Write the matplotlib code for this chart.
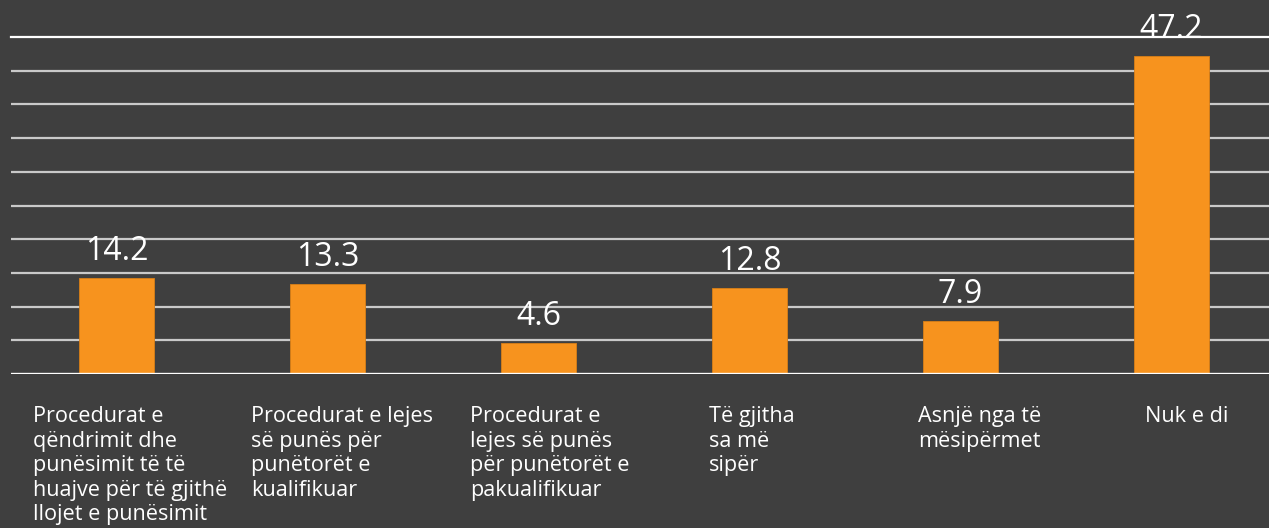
import matplotlib
matplotlib.use("Agg")
import matplotlib.pyplot as plt
from matplotlib import font_manager

categories = [
    "Procedurat e\nqëndrimit dhe\npunësimit të të\nhuajve për të gjithë\nllojet e punësimit",
    "Procedurat e lejes\nsë punës për\npunëtorët e\nkualifikuar",
    "Procedurat e\nlejes së punës\npër punëtorët e\npakualifikuar",
    "Të gjitha\nsa më\nsipër",
    "Asnjë nga të\nmësipërmet",
    "Nuk e di",
]
values = [14.2, 13.3, 4.6, 12.8, 7.9, 47.2]

# left edge of each category label, in pixels from the category centre
label_shift_px = [-83.5, -76.5, -68.5, -40.5, -42.5, -26.5]

BG = "#3f3f3f"
ORANGE = "#f7931e"
GRID = "#c9c9c9"

names = {f.name for f in font_manager.fontManager.ttflist}
family = "Open Sans" if "Open Sans" in names else "DejaVu Sans"

W, H = 1269, 528
fig = plt.figure(figsize=(W / 100, H / 100), dpi=100, facecolor=BG)
# 6 slots of 211 px starting at x=11; the last slot is cut by the figure edge
slot = 211
ax = fig.add_axes([11 / W, 1 - 374 / H, 6 * slot / W, (374 - 37) / H])
ax.set_facecolor(BG)

x = list(range(len(values)))
ax.bar(x, values, width=75 / slot, color=ORANGE, edgecolor="#d97f17",
       linewidth=0.6, zorder=3)
ax.set_xlim(-0.5, 5.5)
ax.set_ylim(0, 50)

for y in range(5, 50, 5):
    ax.axhline(y, color=GRID, linewidth=1.6, zorder=1)
ax.axhline(50, color="white", linewidth=1.6, zorder=1, clip_on=False)
ax.axhline(0, color="white", linewidth=2.4, zorder=4)

for xi, v in zip(x, values):
    ax.annotate(f"{v}", (xi, v), xytext=(0, 13), textcoords="offset points",
                ha="center", va="baseline", color="white", fontsize=23,
                family=family, zorder=5)

for xi, lab, dx in zip(x, categories, label_shift_px):
    ax.text(xi + dx / slot, -0.095, lab, transform=ax.get_xaxis_transform(),
            ha="left", va="top", color="white", fontsize=15.6, family=family,
            linespacing=1.22)

ax.set_xticks([])
ax.set_yticks([])
for s in ax.spines.values():
    s.set_visible(False)

fig.savefig("out.png", dpi=100, facecolor=BG)
